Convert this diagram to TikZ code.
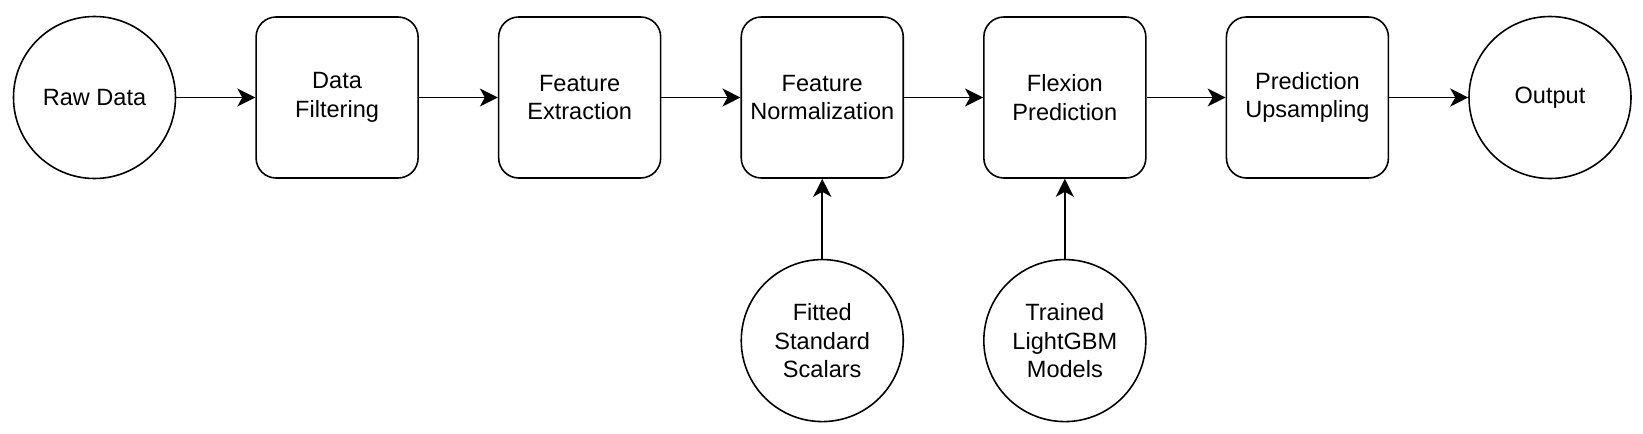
\documentclass[tikz,border=0pt]{standalone}
\usepackage{fontspec}
\setmainfont{Liberation Sans}
\usetikzlibrary{arrows.meta,positioning,calc}

\begin{document}
\begin{tikzpicture}
[block/.style={rectangle,rounded corners=0.4cm,draw=black,line width=0.9pt,minimum width=3.24cm,minimum height=3.22cm,align=center,font=\fontsize{13.4}{16.2}\selectfont},
data/.style={circle,draw=black,line width=0.9pt,minimum size=3.24cm,inner sep=0pt,align=center,font=\fontsize{13.4}{16.2}\selectfont},
edge/.style={-{Stealth[length=0.36cm,width=0.36cm,inset=0.1cm]},line width=0.9pt},
node distance=1.58cm]
\useasboundingbox (0,0) rectangle (32.86,-8.66);
\node[data] (raw) at (1.89,-1.95) {Raw Data};
\node[block] (filter) [right=of raw] {Data\\Filtering};
\node[block] (extract) [right=of filter] {Feature\\Extraction};
\node[block] (norm) [right=of extract] {Feature\\Normalization};
\node[block] (predict) [right=of norm] {Flexion\\Prediction};
\node[block] (upsample) [right=of predict] {Prediction\\Upsampling};
\node[data] (output) [right=of upsample] {Output};
\node[data] (scalers) [below=1.6cm of norm] {Fitted\\Standard\\Scalars};
\node[data] (models) [below=1.6cm of predict] {Trained\\LightGBM\\Models};
\draw (raw) edge[edge] (filter);
\draw (filter) edge[edge] (extract);
\draw (extract) edge[edge] (norm);
\draw (norm) edge[edge] (predict);
\draw (predict) edge[edge] (upsample);
\draw (upsample) edge[edge] (output);
\draw (scalers) edge[edge] (norm);
\draw (models) edge[edge] (predict);
\end{tikzpicture}
\end{document}
